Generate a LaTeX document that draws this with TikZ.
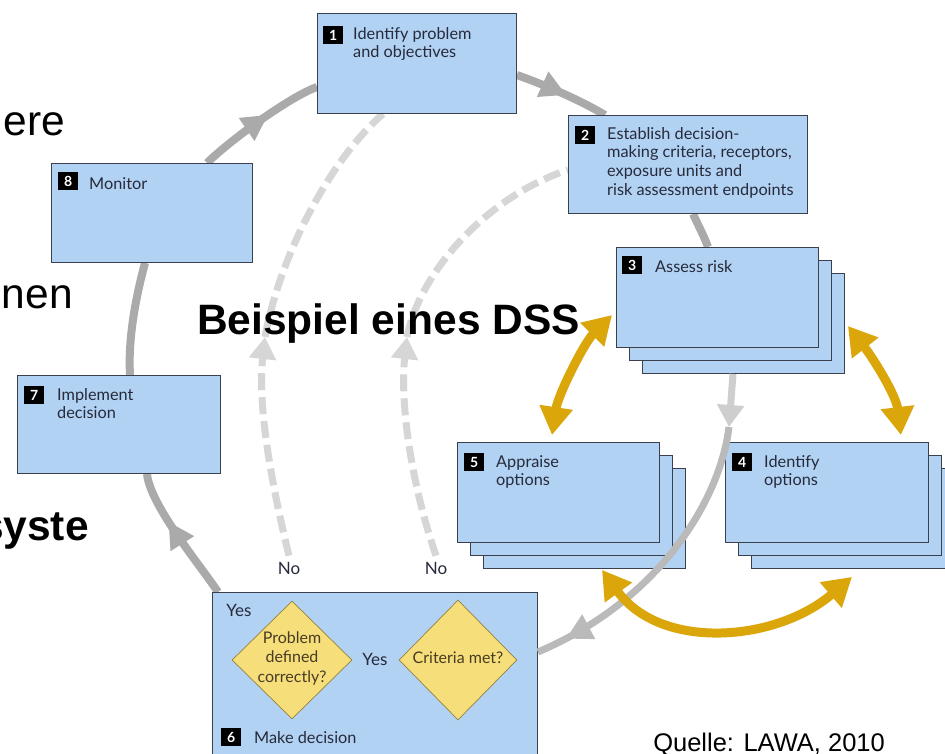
\documentclass[tikz,border=0pt]{standalone}
\usepackage{fontspec}
\setmainfont{Lato}
\newfontfamily\arialfont{Liberation Sans}
\usetikzlibrary{arrows.meta,decorations.markings,shapes.geometric,calc}
\definecolor{boxblue}{RGB}{178,210,244}
\definecolor{boxline}{RGB}{58,64,76}
\definecolor{cyclegray}{RGB}{170,170,170}
\definecolor{dashgray}{RGB}{214,214,214}
\definecolor{flowlight}{RGB}{206,206,206}
\definecolor{flowgray}{RGB}{186,186,186}
\definecolor{mygold}{RGB}{219,166,10}
\definecolor{dfill}{RGB}{246,222,122}
\definecolor{dline}{RGB}{150,128,60}
\definecolor{txt}{RGB}{38,42,58}
\definecolor{dtxt}{RGB}{72,60,36}
\newcommand\boxlines[1]{\begin{tabular}[t]{@{}l@{}}#1\end{tabular}}
\newcommand\boxclines[1]{\begin{tabular}[t]{@{}c@{}}#1\end{tabular}}
\begin{document}
\begin{tikzpicture}[x=1pt,y=-1pt,
  card/.style={draw=boxline,line width=0.9pt,fill=boxblue,inner sep=0pt,anchor=north west},
  badge/.style={fill=black,text=white,font=\fontsize{14}{14}\selectfont\bfseries,minimum width=20pt,minimum height=18pt,inner sep=0pt,anchor=north west},
  boxtext/.style={text=txt,font=\fontsize{16.3}{18.8}\selectfont,anchor=base west,inner sep=0pt},
  dtext/.style={text=dtxt,font=\fontsize{16}{19.5}\selectfont,inner sep=0pt},
  yn/.style={text=txt,font=\fontsize{17}{19}\selectfont,inner sep=1pt},
  bigtext/.style={text=black,font=\arialfont\fontsize{42.5}{48}\selectfont,inner sep=0pt},
  dia/.style={diamond,draw=dline,line width=0.7pt,fill=dfill,inner sep=0pt},
  cyc/.style={draw=cyclegray,color=cyclegray,line width=8pt},
  dsh/.style={draw=dashgray,color=dashgray,line width=7pt,dash pattern=on 17pt off 7pt},
  goldarrow/.style={draw=mygold,color=mygold,line width=9pt,{Triangle[length=28pt,width=32pt]}-{Triangle[length=28pt,width=32pt]}},
  midtip/.style={postaction={decorate},decoration={markings,mark=at position #1 with {\arrow{Triangle[length=26pt,width=26pt]}}}}
]
\clip (0,0) rectangle (945,753);
\fill[white] (0,0) rectangle (945,753);

% background slide text
\node[bigtext,anchor=base east] (tere) at (65,135) {ere};
\node[bigtext,anchor=base east] (tonen) at (73,308) {onen};
\node[bigtext,anchor=base east,font=\arialfont\fontsize{42.5}{48}\selectfont\bfseries] (tsyste) at (89,540) {syste};
\node[bigtext,anchor=base east,font=\arialfont\fontsize{25.5}{30}\selectfont] (quelle) at (885,751) {Quelle: LAWA, 2010};

% ---- box frames (names, invisible) ----
\path node[card,draw=none,fill=none,minimum width=199pt,minimum height=100pt] (b1) at (317,13) {}
      node[card,draw=none,fill=none,minimum width=239pt,minimum height=98pt] (b2) at (568,115) {}
      node[card,draw=none,fill=none,minimum width=202pt,minimum height=100pt] (b3) at (616,247) {}
      node[card,draw=none,fill=none,minimum width=202pt,minimum height=100pt] (b3c) at (642,273) {}
      node[card,draw=none,fill=none,minimum width=202pt,minimum height=100pt] (b5) at (457,442) {}
      node[card,draw=none,fill=none,minimum width=202pt,minimum height=100pt] (b5c) at (483,468) {}
      node[card,draw=none,fill=none,minimum width=203pt,minimum height=100pt] (b4) at (725,442) {}
      node[card,draw=none,fill=none,minimum width=203pt,minimum height=100pt] (b4c) at (751,468) {}
      node[card,draw=none,fill=none,minimum width=201pt,minimum height=99pt] (b8) at (51,163) {}
      node[card,draw=none,fill=none,minimum width=203pt,minimum height=98pt] (b7) at (17,375) {}
      node[card,draw=none,fill=none,minimum width=325pt,minimum height=180pt] (b6) at (212,592) {};

\node[yn] (noA) at (289,568) {No};
\node[yn] (noB) at (436,568) {No};

% ---- main grey cycle ----
\draw[cyc,midtip=0.58] ([xshift=156pt]b8.north west) .. controls (228,142) and (289,97) .. ([yshift=-74pt]b1.north west);
\draw[cyc,midtip=0.55] ([yshift=-62pt]b1.north east) .. controls (545,85) and (580,100) .. ([xshift=37pt]b2.north west);
\draw[cyc] ([xshift=125pt]b2.south west) .. controls (698,225) and (704,236) .. ([xshift=92pt]b3.north west);
\draw[cyc] ([xshift=94pt]b8.south west) .. controls (135,300) and (128,340) .. ([xshift=113pt]b7.north west);
\draw[cyc,midtip=0.62] ([xshift=6pt]b6.north west) .. controls (200,565) and (150,505) .. ([xshift=130pt]b7.south west);

% ---- dashed feedback arrows ----
\coordinate (d1) at (265,337);
\coordinate (d2) at (407,337);
\draw[dsh,-{Triangle[length=22pt,width=26pt]}] ([yshift=5pt]noA.north) .. controls (268,470) and (258,400) .. (d1);
\draw[dsh] (d1) .. controls (280,255) and (330,160) .. ([xshift=66pt]b1.south west);
\draw[dsh,-{Triangle[length=22pt,width=26pt]}] ([yshift=5pt]noB.north) .. controls (410,480) and (400,400) .. (d2);
\draw[dsh] (d2) .. controls (420,270) and (490,195) .. ([yshift=-55pt]b2.north west);

% ---- cards ----
\node[card,minimum width=199pt,minimum height=100pt] (c1) at (317,13) {};
\node[card,minimum width=239pt,minimum height=98pt] (c2) at (568,115) {};
\node[card,minimum width=202pt,minimum height=100pt] (c3c) at (642,273) {};
\node[card,minimum width=202pt,minimum height=100pt] (c3b) at (629,260) {};
\node[card,minimum width=202pt,minimum height=100pt] (c3) at (616,247) {};
\node[card,minimum width=202pt,minimum height=100pt] (c5c) at (483,468) {};
\node[card,minimum width=202pt,minimum height=100pt] (c5b) at (470,455) {};
\node[card,minimum width=202pt,minimum height=100pt] (c5) at (457,442) {};
\node[card,minimum width=203pt,minimum height=100pt] (c4c) at (751,468) {};
\node[card,minimum width=203pt,minimum height=100pt] (c4b) at (738,455) {};
\node[card,minimum width=203pt,minimum height=100pt] (c4) at (725,442) {};
\node[card,minimum width=201pt,minimum height=99pt] (c8) at (51,163) {};
\node[card,minimum width=203pt,minimum height=98pt] (c7) at (17,375) {};
\node[card,minimum width=325pt,minimum height=180pt] (c6) at (212,592) {};

% badges and texts
\node[badge] (n1) at (323,26) {1};
\node[boxtext] (t1) at (353,39) {\boxlines{Identify problem\\and objectives}};
\node[badge] (n2) at (575,126) {2};
\node[boxtext] (t2) at (607,139) {\boxlines{Establish decision-\\making criteria, receptors,\\exposure units and\\risk assessment endpoints}};
\node[badge] (n3) at (622,256) {3};
\node[boxtext] (t3) at (655,272) {Assess risk};
\node[badge] (n5) at (464,453) {5};
\node[boxtext] (t5) at (496,467) {\boxlines{Appraise\\options}};
\node[badge] (n4) at (732,453) {4};
\node[boxtext] (t4) at (764,467) {\boxlines{Identify\\options}};
\node[badge] (n8) at (58,172) {8};
\node[boxtext] (t8) at (89,189) {Monitor};
\node[badge] (n7) at (24,386) {7};
\node[boxtext] (t7) at (57,400) {\boxlines{Implement\\decision}};
\node[badge] (n6) at (221,728) {6};
\node[boxtext] (t6) at (254,743) {Make decision};

% decision diamonds
\node[dia,minimum width=120pt,minimum height=118pt] (q1) at (292,660) {};
\node[dia,minimum width=118pt,minimum height=120pt] (q2) at (458,660) {};
\node[dtext,anchor=center] (q1t) at (292,659) {\boxclines{Problem\\defined\\correctly?}};
\node[dtext,anchor=center] (q2t) at (458,658) {Criteria met?};
\node[yn] (yesA) at (239,610) {Yes};
\node[yn] (yesB) at (375,659) {Yes};

% ---- grey flow from 3 to 6 ----
\coordinate (f1) at (729,427);
\draw[draw=flowlight,color=flowlight,line width=7pt,-{Triangle[length=22pt,width=26pt]}] ([xshift=91pt]b3c.south west) -- (f1);
\draw[draw=flowgray,color=flowgray,line width=7pt,midtip=0.9] (f1) .. controls (720,500) and (660,600) .. ([yshift=-60pt]b6.north east);

% ---- gold double arrows ----
\draw[goldarrow] ([xshift=-4pt,yshift=-68pt]b3.north west) .. controls (584,343) and (558,395) .. ([xshift=95pt,yshift=7pt]b5.north west);
\draw[goldarrow] ([xshift=3pt,yshift=-53pt]b3c.north east) .. controls (873,358) and (896,395) .. ([xshift=-28pt,yshift=7pt]b4.north east);
\draw[goldarrow] ([xshift=119pt,yshift=-1pt]b5c.south west) .. controls (661,651) and (776,642) .. ([xshift=101pt,yshift=-8pt]b4c.south west);

% title text on top
\node[bigtext,anchor=base west,font=\arialfont\fontsize{42.5}{48}\selectfont\bfseries] (title) at (197,334) {Beispiel eines DSS};
\end{tikzpicture}
\end{document}
